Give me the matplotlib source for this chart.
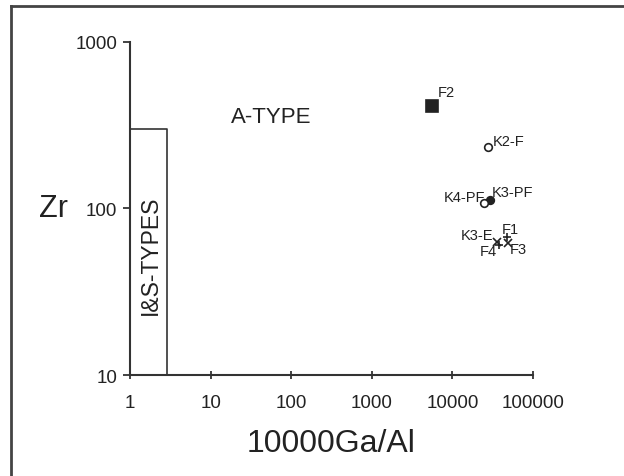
import matplotlib.pyplot as plt
from matplotlib.lines import Line2D

plt.rcParams['font.family'] = ['Liberation Sans', 'DejaVu Sans']

# sample data
names = ['F2', 'K2-F', 'K3-PF', 'K4-PF', 'K3-E', 'F1', 'F3', 'F4']
ga_al = [5600, 27500, 29300, 24700, 35700, 47600, 49000, 37800]
zr = [413, 234, 112, 108, 63, 67.5, 62, 60.4]
markers = ['s', 'o', 'o', 'o', 'x', '+', 'x', '+']
filled = [True, False, True, False, True, True, True, True]
label_pos = [(4, 10), (3.5, 4.5), (1.5, 6), (0.5, 4), (-3, 5), (-3.5, 5.5), (1, -4.5), (-1.5, -4)]
label_ha = ['left', 'left', 'left', 'right', 'right', 'left', 'left', 'right']

# I&S field boundary
is_x = [1, 2.9, 2.9]
is_y = [300, 300, 10]

xticks = [1, 10, 100, 1000, 10000, 100000]
yticks = [10, 100, 1000]

fig = plt.figure(figsize=(6.24, 4.77), dpi=100)
ax = fig.add_axes([0.2083, 0.2117, 0.6459, 0.6982])

ax.plot(is_x, is_y, color='#333333', lw=1.2)

for i in range(len(names)):
    fc = '#222222' if filled[i] else 'white'
    ms = 9 if markers[i] == 's' else 5.5
    ax.plot(ga_al[i], zr[i], marker=markers[i], ms=ms, mfc=fc, mec='#222222',
            mew=1.2, ls='none')
    ax.annotate(names[i], (ga_al[i], zr[i]), xytext=label_pos[i],
                textcoords='offset points', fontsize=10.5, ha=label_ha[i],
                va='center', color='#222222')

ax.text(56, 359, 'A-TYPE', fontsize=16, ha='center', va='center', color='#222222')
ax.text(1.77, 53, 'I&S-TYPES', fontsize=16.5, rotation=90, ha='center', va='center',
        color='#222222')

ax.set_xscale('log')
ax.set_yscale('log')
ax.set_xlim(1, 100000)
ax.set_ylim(10, 1000)
ax.set_xticks(xticks)
ax.set_xticklabels([str(t) for t in xticks])
ax.set_yticks(yticks)
ax.set_yticklabels([str(t) for t in yticks])
ax.minorticks_off()
ax.tick_params(axis='x', direction='inout', length=6, width=1.2, pad=11,
               labelsize=13.5, colors='#222222')
ax.tick_params(axis='y', direction='out', length=5, width=1.2, pad=4,
               labelsize=13.5, colors='#222222')

for s in ['top', 'right']:
    ax.spines[s].set_visible(False)
for s in ['left', 'bottom']:
    ax.spines[s].set_linewidth(1.5)
    ax.spines[s].set_color('#333333')

ax.set_xlabel('10000Ga/Al', fontsize=23, labelpad=12, color='#222222')
ax.set_ylabel('Zr', fontsize=22, rotation=0, labelpad=16, va='center', color='#222222')

# frame lines of the page
fig.add_artist(Line2D([11 / 624, 11 / 624], [0, 1 - 7 / 477], color='#444444', lw=2))
fig.add_artist(Line2D([11 / 624, 1], [1 - 7 / 477, 1 - 7 / 477], color='#444444', lw=2))

fig.savefig('out.png', dpi=100)
